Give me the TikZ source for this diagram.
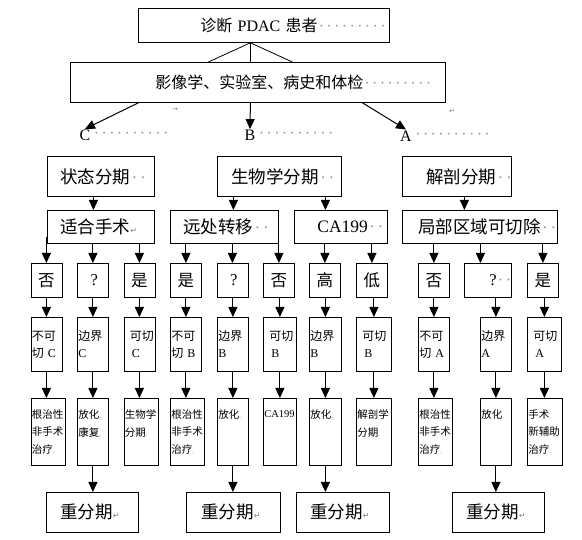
\documentclass[tikz,border=0pt]{standalone}
\usepackage{fontspec}
\setmainfont{Liberation Serif}
\newfontfamily\cjkfont{Noto Sans CJK SC}
\newfontfamily\symfont{DejaVu Sans}
\usepackage{xcolor}
\usepackage{tikz}
\usetikzlibrary{arrows.meta,positioning}

\newcommand\zh[1]{{\cjkfont #1}}
\newcommand\wsp[1]{\textcolor{black!40}{\foreach \i in {1,...,#1}{\makebox[.48em]{·}}}}
\newcommand\ret{\textcolor{black!50}{\symfont\fontsize{8}{8}\selectfont ↵}}
\newcommand\pmk{\textcolor{black!55}{\scriptsize .}}

\begin{document}
\begin{tikzpicture}[x=1pt, y=-1pt,
    box/.style={draw, line width=.8pt, inner xsep=0pt, inner ysep=0pt, anchor=north west, align=left},
    fbig/.style={font=\fontsize{16}{19}\selectfont},
    fmid/.style={font=\fontsize{17.5}{20}\selectfont},
    yn/.style={box, align=center, text width=31pt, minimum height=34pt, font=\fontsize{16.5}{19}\selectfont},
    lvl/.style={box, inner xsep=1pt, minimum height=54pt, font=\fontsize{12}{17}\selectfont},
    trt/.style={box, inner xsep=1pt, minimum height=67pt, font=\fontsize{10.5}{17.5}\selectfont},
    fmark/.style={inner sep=0pt, font=\symfont\fontsize{7}{7}\selectfont, text=black!50},
    arrow/.style={-{Triangle[length=10pt, width=9pt]}, line width=1pt},
    link/.style={line width=.8pt}
  ]
    \useasboundingbox (0,0) rectangle (582,540);

    \node[box, fbig, text width=251pt, minimum height=34pt] (diag) at (138,8) {\mbox{\hspace*{62pt}\zh{诊断} PDAC \zh{患者}\wsp{9}}};
    \node[box, fbig, text width=375pt, minimum height=40pt] (eval) at (70,62) {\mbox{\hspace*{85pt}\zh{影像学、实验室、病史和体检}\wsp{9}}};
    \node[fmark] (tabm) at (175,110) {→};
    \node[fmark] (retm) at (452,111) {↵};

    \node[fbig, inner sep=1pt] (lc) at (85,135.5) {C};
    \node[fbig, inner sep=0pt, right=1pt of lc] (lcd) {\wsp{10}};
    \node[fbig, inner sep=1pt] (lb) at (250,135.5) {B};
    \node[fbig, inner sep=0pt, right=1pt of lb] (lbd) {\wsp{10}};
    \node[fbig, inner sep=1pt] (la) at (406,136) {A};
    \node[fbig, inner sep=0pt, right=1pt of la] (lad) {\wsp{10}};

    % staging boxes
    \node[box, fmid, text width=107pt, minimum height=40pt] (st) at (47,156) {\mbox{\hspace*{13pt}\zh{状态分期}\wsp{2}}};
    \node[box, fmid, text width=124pt, minimum height=40pt] (sw) at (217,156) {\mbox{\hspace*{14pt}\zh{生物学分期}\wsp{2}}};
    \node[box, fmid, text width=109pt, minimum height=40pt] (jp) at (402,156) {\mbox{\hspace*{24pt}\zh{解剖分期}\wsp{2}}};

    \node[box, fmid, text width=107pt, minimum height=33pt] (fit) at (47,210) {\mbox{\hspace*{13pt}\zh{适合手术}\ret}};
    \node[box, fmid, text width=108pt, minimum height=33pt] (dm) at (170,210) {\mbox{\hspace*{13pt}\zh{远处转移}\wsp{2}}};
    \node[box, fmid, text width=93pt, minimum height=33pt] (ca) at (294,210) {\mbox{\hspace*{23pt}CA199\wsp{2}}};
    \node[box, fmid, text width=155pt, minimum height=33pt] (loc) at (402,210) {\mbox{\hspace*{16pt}\zh{局部区域可切除}\wsp{2}}};

    % answers
    \node[yn] (noC) at (30.5,263) {\zh{否}};
    \node[yn] (quC) at (77,263) {\hspace*{3pt}?};
    \node[yn] (isC) at (123.5,263) {\zh{是}};
    \node[yn] (isB) at (170,263) {\zh{是}};
    \node[yn] (quB) at (216.5,263) {\hspace*{3pt}?};
    \node[yn] (noB) at (263,263) {\zh{否}};
    \node[yn] (hi) at (309,263) {\zh{高}};
    \node[yn] (lo) at (356,263) {\zh{低}};
    \node[yn] (noA) at (418,263) {\zh{否}};
    \node[yn, text width=47pt, align=left] (quA) at (464,263) {\mbox{\hspace*{25pt}?\wsp{2}}};
    \node[yn] (isA) at (527,263) {\zh{是}};

    % resectability
    \node[lvl, text width=29pt] (ncC) at (30.5,317) {\zh{不可}\\\zh{切} C};
    \node[lvl, text width=29pt] (bjC) at (77,317) {\zh{边界}\\C};
    \node[lvl, text width=29pt] (kqC) at (123.5,317) {\mbox{\hspace*{5pt}\zh{可切}}\\\hspace*{7pt}C};
    \node[lvl, text width=29pt] (ncB) at (170,317) {\zh{不可}\\\zh{切} B};
    \node[lvl, text width=29pt] (bjB) at (217,317) {\zh{边界}\\B};
    \node[lvl, text width=31pt] (kqB) at (263,317) {\mbox{\hspace*{5pt}\zh{可切}}\\\hspace*{7pt}B};
    \node[lvl, text width=30pt] (bjBb) at (309,317) {\zh{边界}\\B};
    \node[lvl, text width=33pt] (kqBb) at (356,317) {\mbox{\hspace*{5pt}\zh{可切}}\\\hspace*{7pt}B};
    \node[lvl, text width=29pt] (ncA) at (418,317) {\zh{不可}\\\zh{切} A};
    \node[lvl, text width=29pt] (bjA) at (480,317) {\zh{边界}\\A};
    \node[lvl, text width=32pt] (kqA) at (527,317) {\mbox{\hspace*{5pt}\zh{可切}}\\\hspace*{7pt}A};

    % treatment
    \node[trt, text width=32pt] (rC1) at (30.5,398) {\zh{根治性}\\\zh{非手术}\\\zh{治疗}\pmk};
    \node[trt, text width=29pt] (rC2) at (77,398) {\zh{放化}\pmk\\\zh{康复}\pmk\\\mbox{}};
    \node[trt, text width=32pt] (rC3) at (123.5,398) {\zh{生物学}\\\zh{分期}\pmk\\\mbox{}};
    \node[trt, text width=32pt] (rB1) at (170,398) {\zh{根治性}\\\zh{非手术}\\\zh{治疗}\pmk};
    \node[trt, text width=29pt] (rB2) at (217,398) {\zh{放化}\pmk\\\mbox{}\\\mbox{}};
    \node[trt, text width=31pt] (rB3) at (263,398) {CA199\\\mbox{}\\\mbox{}};
    \node[trt, text width=30pt] (rB4) at (309,398) {\zh{放化}\pmk\\\mbox{}\\\mbox{}};
    \node[trt, text width=33pt] (rB5) at (356,398) {\zh{解剖学}\\\zh{分期}\pmk\\\mbox{}};
    \node[trt, text width=32pt] (rA1) at (418,398) {\zh{根治性}\\\zh{非手术}\\\zh{治疗}\pmk};
    \node[trt, text width=29pt] (rA2) at (480,398) {\zh{放化}\pmk\\\mbox{}\\\mbox{}};
    \node[trt, text width=33pt] (rA3) at (527,398) {\zh{手术}\pmk\\\zh{新辅助}\\\zh{治疗}\pmk};

    \node[box, fmid, text width=92pt, minimum height=40pt] (rs1) at (46,492) {\mbox{\hspace*{14pt}\zh{重分期}\ret}};
    \node[box, fmid, text width=94pt, minimum height=40pt] (rs2) at (186,492) {\mbox{\hspace*{15pt}\zh{重分期}\ret}};
    \node[box, fmid, text width=93pt, minimum height=40pt] (rs3) at (296,492) {\mbox{\hspace*{14pt}\zh{重分期}\ret}};
    \node[box, fmid, text width=92pt, minimum height=40pt] (rs4) at (452,492) {\mbox{\hspace*{14pt}\zh{重分期}\ret}};

    % shifted connector ends
    \coordinate (stx) at ([xshift=-7.5pt]st.south);
    \coordinate (swl) at ([xshift=-46pt]sw.south);
    \coordinate (swr) at ([xshift=46pt]sw.south);
    \coordinate (jpx) at ([xshift=7.5pt]jp.south);
    \coordinate (fitl) at ([yshift=7pt]fit.south west);
    \coordinate (quAx) at ([xshift=-7.5pt]quA.north);

    \draw[link] ([xshift=-13.5pt]diag.south) -- ([xshift=-49.5pt]eval.north);
    \draw[link] ([xshift=-13.5pt]diag.south) -- ([xshift=-7.5pt]eval.north);
    \draw[link] ([xshift=-13.5pt]diag.south) -- ([xshift=34.5pt]eval.north);
    \draw[arrow] ([xshift=-119.5pt]eval.south) -- (lc.north);
    \draw[arrow] ([xshift=-7.5pt]eval.south) -- (lb.north);
    \draw[arrow] ([xshift=104.5pt]eval.south) -- (la.north);

    \draw[arrow] (stx) -- (stx |- fit.north);
    \draw[arrow] (swl) -- (swl |- dm.north);
    \draw[arrow] (swr) -- (swr |- ca.north);
    \draw[arrow] (jpx) -- (jpx |- loc.north);

    \draw[arrow] (noC.north |- fitl) -- (noC.north);
    \draw[arrow] (quC.north |- fit.south) -- (quC.north);
    \draw[arrow] (isC.north |- fit.south) -- (isC.north);
    \draw[arrow] (isB.north |- dm.south) -- (isB.north);
    \draw[arrow] (quB.north |- dm.south) -- (quB.north);
    \draw[arrow] (noB.north |- dm.south) -- (noB.north);
    \draw[arrow] (hi.north |- ca.south) -- (hi.north);
    \draw[arrow] (lo.north |- ca.south) -- (lo.north);
    \draw[arrow] (noA.north |- loc.south) -- (noA.north);
    \draw[arrow] (quAx |- loc.south) -- (quAx);
    \draw[arrow] (isA.north |- loc.south) -- (isA.north);

    \draw[arrow] (ncC.north |- noC.south) -- (ncC.north);
    \draw[arrow] (bjC.north |- quC.south) -- (bjC.north);
    \draw[arrow] (kqC.north |- isC.south) -- (kqC.north);
    \draw[arrow] (ncB.north |- isB.south) -- (ncB.north);
    \draw[arrow] (bjB.north |- quB.south) -- (bjB.north);
    \draw[arrow] (kqB.north |- noB.south) -- (kqB.north);
    \draw[arrow] (bjBb.north |- hi.south) -- (bjBb.north);
    \draw[arrow] (kqBb.north |- lo.south) -- (kqBb.north);
    \draw[arrow] (ncA.north |- noA.south) -- (ncA.north);
    \draw[arrow] (bjA.north |- quA.south) -- (bjA.north);
    \draw[arrow] (kqA.north |- isA.south) -- (kqA.north);

    \draw[arrow] (ncC.south) -- (ncC.south |- rC1.north);
    \draw[arrow] (bjC.south) -- (bjC.south |- rC2.north);
    \draw[arrow] (kqC.south) -- (kqC.south |- rC3.north);
    \draw[arrow] (ncB.south) -- (ncB.south |- rB1.north);
    \draw[arrow] (bjB.south) -- (bjB.south |- rB2.north);
    \draw[arrow] (kqB.south) -- (kqB.south |- rB3.north);
    \draw[arrow] (bjBb.south) -- (bjBb.south |- rB4.north);
    \draw[arrow] (kqBb.south) -- (kqBb.south |- rB5.north);
    \draw[arrow] (ncA.south) -- (ncA.south |- rA1.north);
    \draw[arrow] (bjA.south) -- (bjA.south |- rA2.north);
    \draw[arrow] (kqA.south) -- (kqA.south |- rA3.north);

    \draw[arrow] (rC2.south) -- (rC2.south |- rs1.north);
    \draw[arrow] (rB2.south) -- (rB2.south |- rs2.north);
    \draw[arrow] (rB4.south) -- (rB4.south |- rs3.north);
    \draw[arrow] (rA2.south) -- (rA2.south |- rs4.north);
  \end{tikzpicture}
\end{document}
